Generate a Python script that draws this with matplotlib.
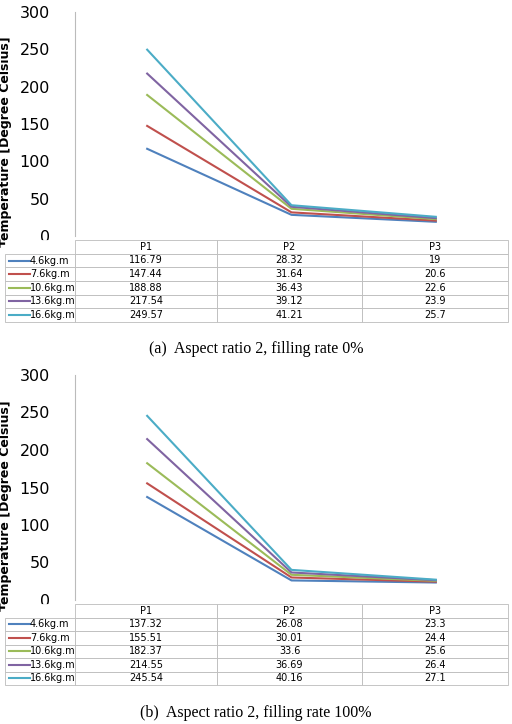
import matplotlib
matplotlib.use("Agg")
import matplotlib.pyplot as plt
from matplotlib.lines import Line2D

points = ["P1", "P2", "P3"]
series = ["4.6kg.m", "7.6kg.m", "10.6kg.m", "13.6kg.m", "16.6kg.m"]
colors = ["#4F81BD", "#C0504D", "#9BBB59", "#8064A2", "#4BACC6"]
vals_a = [[116.79, 28.32, 19], [147.44, 31.64, 20.6], [188.88, 36.43, 22.6],
          [217.54, 39.12, 23.9], [249.57, 41.21, 25.7]]
vals_b = [[137.32, 26.08, 23.3], [155.51, 30.01, 24.4], [182.37, 33.6, 25.6],
          [214.55, 36.69, 26.4], [245.54, 40.16, 27.1]]
captions = ["(a)  Aspect ratio 2, filling rate 0%", "(b)  Aspect ratio 2, filling rate 100%"]

W, H = 512, 724
fig = plt.figure(figsize=(W/100, H/100), dpi=100)

def fx(px): return px / W
def fy(py): return 1 - py / H

def panel(vals, y300, y0, ytab0, ytab1, ycap, cap):
    ax = fig.add_axes([fx(75), fy(y0), fx(508-75), (y0-y300)/H])
    for v, c in zip(vals, colors):
        ax.plot(range(3), v, color=c, lw=1.5)
    ax.set_xlim(-0.5, 2.5); ax.set_ylim(0, 300)
    ax.set_yticks(range(0, 301, 50))
    ax.tick_params(axis='y', labelsize=11.5, length=0, pad=18)
    ax.set_xticks([])
    for s in ["top", "right", "bottom"]:
        ax.spines[s].set_visible(False)
    ax.spines["left"].set_color("#BBBBBB")
    ax.set_ylabel("Temperature [Degree Celsius]", fontsize=9, fontweight="bold")
    ax.yaxis.set_label_coords(-0.145, 0.42)
    tax = fig.add_axes([fx(5), fy(ytab1), fx(508-5), (ytab1-ytab0)/H])
    tax.axis("off")
    cell = [[""] + points] + [[""] + [f"{x:g}" for x in v] for v in vals]
    t = tax.table(cellText=cell, bbox=[0, 0, 1, 1], cellLoc="center",
                  colWidths=[70, 142, 145, 146])
    t.auto_set_font_size(False); t.set_fontsize(7)
    for (r, c), cl in t.get_celld().items():
        cl.set_edgecolor("#BBBBBB"); cl.set_linewidth(0.6)
    t[0, 0].set_edgecolor("white")
    nrows = 6
    rh = (ytab1 - ytab0) / nrows
    for i, (s, c) in enumerate(zip(series, colors)):
        yc = ytab0 + rh * (i + 1.5)
        fig.add_artist(Line2D([fx(9), fx(30)], [fy(yc), fy(yc)], color=c, lw=1.5))
        fig.text(fx(30), fy(yc), s, fontsize=7, va="center", ha="left")
    fig.text(0.5, fy(ycap), cap, ha="center", va="center", fontsize=11.5, family="Liberation Serif")

panel(vals_a, 12, 236, 240, 322, 349, captions[0])
panel(vals_b, 375, 600, 604, 685, 713, captions[1])
fig.savefig("out.png", dpi=100)
